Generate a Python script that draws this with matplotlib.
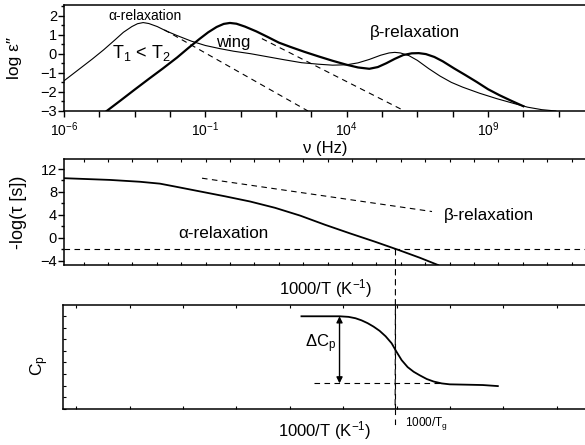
import matplotlib
matplotlib.use("Agg")
import matplotlib.pyplot as plt
from matplotlib.ticker import MultipleLocator, FixedLocator, FixedFormatter
from matplotlib.patches import ConnectionPatch

plt.rcParams["font.family"] = ["Liberation Sans", "DejaVu Sans"]
plt.rcParams["mathtext.default"] = "regular"

# --- top panel: dielectric loss spectra (log10 nu, log eps'') ---
thin_lognu = [-6.0, -5.5, -5.0, -4.6, -4.2, -3.9, -3.6, -3.4, -3.2, -3.0, -2.7, -2.4, -2.0, -1.5,
              -1.0, -0.5, 0.0, 0.6, 1.2, 1.8, 2.4, 3.0, 3.5, 4.0, 4.4, 4.8, 5.2, 5.5, 5.7, 5.9,
              6.2, 6.5, 6.9, 7.3, 7.7, 8.1, 8.7, 9.3, 9.9, 10.4, 10.9, 11.4]
thin_logeps = [-1.42, -0.85, -0.28, 0.2, 0.72, 1.12, 1.42, 1.57, 1.63, 1.58, 1.42, 1.2, 0.95, 0.66,
               0.43, 0.27, 0.13, 0.0, -0.16, -0.32, -0.47, -0.55, -0.6, -0.58, -0.48, -0.3, -0.08, 0.04, 0.07, 0.04,
               -0.1, -0.35, -0.78, -1.17, -1.5, -1.75, -2.07, -2.35, -2.6, -2.8, -2.93, -3.0]
thick_lognu = [-4.49, -4.0, -3.5, -3.0, -2.5, -2.0, -1.6, -1.2, -0.9, -0.6, -0.35, -0.13, 0.1, 0.4,
               0.8, 1.2, 1.6, 2.0, 2.5, 3.0, 3.5, 4.0, 4.4, 4.8, 5.1, 5.4, 5.7, 6.0, 6.3, 6.55,
               6.8, 7.1, 7.4, 7.8, 8.2, 8.6, 9.0, 9.4, 9.8, 10.25]
thick_logeps = [-3.0, -2.45, -1.88, -1.32, -0.77, -0.2, 0.3, 0.78, 1.12, 1.4, 1.56, 1.61, 1.57, 1.42,
                1.17, 0.88, 0.58, 0.36, 0.1, -0.14, -0.37, -0.58, -0.72, -0.79, -0.7, -0.5, -0.27, -0.07, 0.02, 0.03,
                -0.02, -0.17, -0.4, -0.77, -1.12, -1.48, -1.86, -2.17, -2.45, -2.75]
dash1_lognu = [-2.45, 2.63]
dash1_logeps = [1.25, -3.0]
dash2_lognu = [1.0, 6.05]
dash2_logeps = [0.79, -3.0]
nu_ticks = [-6.0, -4.75, -3.5, -2.25, -1.0, 0.25, 1.5, 2.75, 4.0, 5.25, 6.5, 7.75, 9.0, 10.25, 11.5]
nu_ticklabels = ["$10^{-6}$", "", "", "", "$10^{-1}$", "", "", "", "$10^{4}$", "", "", "", "$10^{9}$", "", ""]

# --- middle panel: relaxation map (1000/T, -log tau) ---
alpha_invT = [2.00, 2.46, 2.76, 2.96, 3.11, 3.36, 3.61, 3.86, 4.11, 4.36, 4.61, 4.86, 5.11, 5.34, 5.56, 5.74]
alpha_tau = [10.4, 10.1, 9.78, 9.45, 8.95, 8.1, 7.25, 6.35, 5.25, 3.9, 2.3, 0.8, -0.65, -2.05, -3.45, -4.7]
beta_invT = [3.38, 5.68]
beta_tau = [10.4, 4.6]
tau_glass = -2.0
invTg = 5.315

# --- bottom panel: heat capacity step ---
cp_invT = [4.38, 4.60, 4.76, 4.85, 4.92, 4.98, 5.04, 5.10, 5.16, 5.22, 5.28, 5.33, 5.38, 5.44,
           5.50, 5.56, 5.63, 5.70, 5.78, 5.86, 6.03, 6.19, 6.34]
cp_val = [7.97, 7.97, 7.97, 7.92, 7.8, 7.62, 7.38, 7.08, 6.72, 6.25, 5.65, 4.9, 4.2, 3.6,
          3.2, 2.9, 2.58, 2.36, 2.2, 2.12, 2.09, 2.06, 1.97]
cp_glass = 2.2
cp_liquid = 7.97
dcp_x = 4.76
dash_cp_x = [4.51, 5.76]

fig = plt.figure(figsize=(5.85, 4.45), dpi=100)
W, H = 585.0, 445.0


def place(left, top, right, bottom):
    return [left / W, 1 - bottom / H, (right - left) / W, (bottom - top) / H]


ax1 = fig.add_axes(place(64, 5, 587, 111))
ax2 = fig.add_axes(place(64, 159, 587, 265))
ax3 = fig.add_axes(place(63, 305, 587, 409))

for ax in (ax1, ax2, ax3):
    ax.spines["right"].set_visible(False)
    for s in ("left", "top", "bottom"):
        ax.spines[s].set_linewidth(1.1)

dash = (0, (5, 4))

# top panel
ax1.plot(thin_lognu, thin_logeps, color="black", lw=0.8)
ax1.plot(thick_lognu, thick_logeps, color="black", lw=1.6)
ax1.plot(dash1_lognu, dash1_logeps, color="black", lw=0.8, ls=dash)
ax1.plot(dash2_lognu, dash2_logeps, color="black", lw=0.8, ls=dash)
ax1.set_xlim(-6, 12.5)
ax1.set_ylim(-3, 2.55)
ax1.xaxis.set_major_locator(FixedLocator(nu_ticks))
ax1.xaxis.set_major_formatter(FixedFormatter(nu_ticklabels))
ax1.yaxis.set_major_locator(MultipleLocator(1))
ax1.yaxis.set_minor_locator(MultipleLocator(0.5))
ax1.tick_params(axis="x", direction="out", length=4, width=1, labelsize=10, pad=3)
ax1.tick_params(axis="y", which="major", direction="out", length=4, width=1, labelsize=10.5, pad=1)
ax1.tick_params(axis="y", which="minor", direction="out", length=2.5, width=1)
ax1.set_xlabel("ν (Hz)", fontsize=12, labelpad=1)
ax1.set_ylabel("log ε″", fontsize=12.5)
ax1.yaxis.set_label_coords(-0.08, 0.5)
ax1.text(-3.15, 2.0, "α-relaxation", fontsize=10, ha="center", va="center")
ax1.text(-3.25, 0.05, "T$_1$ < T$_2$", fontsize=13, ha="center", va="center")
ax1.text(-0.03, 0.58, "wing", fontsize=12, ha="center", va="center")
ax1.text(6.4, 1.1, "β-relaxation", fontsize=12.3, ha="center", va="center")

# middle panel
ax2.plot(alpha_invT, alpha_tau, color="black", lw=1.3)
ax2.plot(beta_invT, beta_tau, color="black", lw=0.8, ls=dash)
ax2.axhline(tau_glass, color="black", lw=0.8, ls=dash)
ax2.set_xlim(2.0, 7.23)
ax2.set_ylim(-4.7, 13.74)
ax2.yaxis.set_major_locator(FixedLocator([-4, 0, 4, 8, 12]))
ax2.yaxis.set_minor_locator(FixedLocator([-2, 2, 6, 10]))
ax2.xaxis.set_major_locator(MultipleLocator(0.244))
ax2.tick_params(axis="x", direction="in", length=2, width=0.8, top=True, labelbottom=False)
ax2.tick_params(axis="y", which="major", direction="out", length=4, width=1, labelsize=10.5, pad=1)
ax2.tick_params(axis="y", which="minor", direction="out", length=2.5, width=1)
ax2.set_xlabel("1000/T (K$^{-1}$)", fontsize=12, labelpad=9)
ax2.set_ylabel("-log(τ [s])", fontsize=13)
ax2.yaxis.set_label_coords(-0.071, 0.5)
ax2.text(3.59, 0.7, "α-relaxation", fontsize=12.3, ha="center", va="center")
ax2.text(6.25, 3.9, "β-relaxation", fontsize=12.3, ha="center", va="center")

# bottom panel
ax3.plot(cp_invT, cp_val, color="black", lw=1.3)
ax3.plot(dash_cp_x, [cp_glass, cp_glass], color="black", lw=0.8, ls=dash)
ax3.annotate("", xy=(dcp_x, cp_glass), xytext=(dcp_x, cp_liquid),
             arrowprops=dict(arrowstyle="<|-|>", color="black", lw=1.0,
                             mutation_scale=9, shrinkA=0, shrinkB=0))
ax3.axvline(invTg, color="black", lw=0.8, ls=dash)
ax3.set_xlim(2.0, 7.23)
ax3.set_ylim(0, 8.94)
ax3.xaxis.set_major_locator(MultipleLocator(0.533))
ax3.yaxis.set_major_locator(MultipleLocator(1))
ax3.tick_params(axis="x", direction="in", length=2, width=0.8, top=True, labelbottom=False)
ax3.tick_params(axis="y", direction="in", length=2, width=0.8, labelleft=False)
ax3.set_xlabel("1000/T (K$^{-1}$)", fontsize=12, labelpad=7)
ax3.set_ylabel("C$_p$", fontsize=12.5)
ax3.yaxis.set_label_coords(-0.022, 0.42)
ax3.text(4.73, 5.6, "ΔC$_p$", fontsize=12, ha="right", va="center")
ax3.text(invTg + 0.1, -1.25, "1000/T$_g$", fontsize=8.5, ha="left", va="center")

# vertical dashed line at 1000/Tg bridging the two lower panels
con = ConnectionPatch(xyA=(invTg, tau_glass), coordsA=ax2.transData,
                      xyB=(invTg, 0), coordsB=ax3.transData,
                      color="black", lw=0.8, ls=dash)
fig.add_artist(con)
ax3.plot([invTg, invTg], [0, -1.55], color="black", lw=0.8, ls=dash, clip_on=False)

fig.savefig("out.png", dpi=100)
